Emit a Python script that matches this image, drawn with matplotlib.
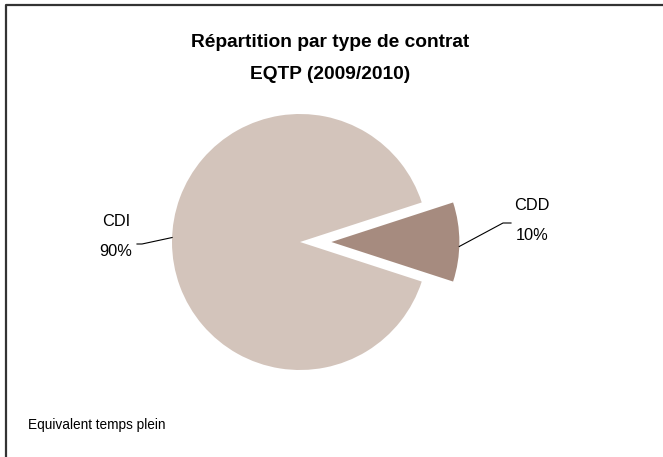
import matplotlib
matplotlib.use("Agg")
import matplotlib.pyplot as plt
import numpy as np

categories = ["CDI", "CDD"]
values = [90, 10]
colors = ["#D3C4BB", "#A68B7F"]
title = "Répartition par type de contrat\nEQTP (2009/2010)"
footnote = "Equivalent temps plein"

W, H = 663, 457
fig = plt.figure(figsize=(W / 100, H / 100), dpi=100)
ax = fig.add_axes([0, 0, 1, 1])

cx, cy, R = 300, H - 242, 128
explode = [0, 0.245 * R]
wedges, _ = ax.pie(values, colors=colors, startangle=18, explode=explode,
                   center=(cx, cy), radius=R, counterclock=True,
                   wedgeprops=dict(linewidth=0), frame=True)
ax.set_xlim(0, W)
ax.set_ylim(0, H)
ax.set_aspect("equal")
ax.axis("off")

fam = ["Liberation Sans", "DejaVu Sans"]
total = sum(values)
pct = [f"{round(v / total * 100)}%" for v in values]

# label placement (layout)
label_cfg = {
    "CDD": dict(text_xy=(532, H - 220), line_end=[(511, H - 223), (503, H - 223)], ang=-2),
    "CDI": dict(text_xy=(116, H - 236), line_end=[(137, H - 244), (142, H - 244)], ang=178),
}
for w, cat, p in zip(wedges, categories, pct):
    cfg = label_cfg[cat]
    c = w.center
    a = np.deg2rad(cfg["ang"])
    px, py = c[0] + R * np.cos(a), c[1] + R * np.sin(a)
    pts = [(px, py)] + cfg["line_end"][::-1]
    xs = [q[0] for q in pts]
    ys = [q[1] for q in pts]
    ax.plot(xs, ys, color="black", lw=0.8)
    ax.text(cfg["text_xy"][0], cfg["text_xy"][1], f"{cat}\n{p}", ha="center", va="center",
            fontsize=11.8, family=fam, linespacing=2.25)

fig.text(330 / W, 1 - 58.5 / H, title, ha="center", va="center", fontsize=13.8,
         fontweight="bold", family=fam, linespacing=2.15)
fig.text(28 / W, 1 - 425 / H, footnote, ha="left", va="center", fontsize=9.8, family=fam)

# frame (left and top visible)
ax.plot([6, 6, W], [0, H - 5, H - 5], color="#333333", lw=1.6, solid_capstyle="butt",
        clip_on=False)

fig.savefig("out.png", dpi=100, facecolor="white")
